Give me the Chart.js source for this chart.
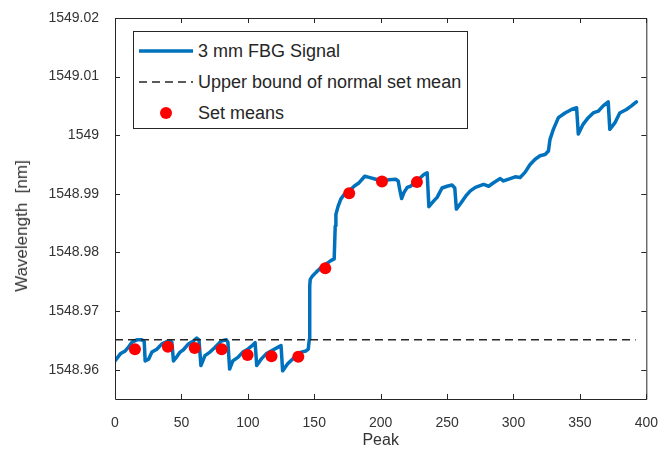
<!DOCTYPE html>
<html>
<head>
<meta charset="utf-8">
<script src="https://cdn.jsdelivr.net/npm/chart.js@4.4.0/dist/chart.umd.min.js"></script>
<style>
  html, body { margin: 0; padding: 0; background: #fff; }
  #wrap { position: relative; width: 666px; height: 457px; }
  #legend {
    position: absolute; left: 133px; top: 31px; width: 335px; height: 98px;
    box-sizing: border-box; border: 1px solid #262626; background: #fff;
    font-family: "Liberation Sans", Arial, sans-serif; font-size: 18px; color: #262626;
  }
  .row { position: absolute; left: 0; height: 24px; }
  .row svg { position: absolute; left: 4px; top: 0; }
  .row span { position: absolute; left: 64px; top: 1px; white-space: nowrap; line-height: 22px; }
  #ytitle {
    position: absolute; left: 22px; top: 226px; width: 0; height: 0;
    font-family: "Liberation Sans", Arial, sans-serif; font-size: 17px; color: #333;
  }
  #ytitle span {
    position: absolute; left: 0; top: 0; white-space: pre;
    transform: translate(-50%, -50%) rotate(-90deg);
  }
</style>
</head>
<body>
<div id="wrap">
  <canvas id="chart" width="666" height="457"></canvas>
  <div id="ytitle"><span>Wavelength  [nm]</span></div>
  <div id="legend">
    <div class="row" style="top:7px">
      <svg width="56" height="24"><line x1="1" y1="12" x2="55" y2="12" stroke="#0072BD" stroke-width="3.5"/></svg>
      <span>3 mm FBG Signal</span>
    </div>
    <div class="row" style="top:38px">
      <svg width="56" height="24"><line x1="1" y1="12" x2="55" y2="12" stroke="#262626" stroke-width="1.5" stroke-dasharray="8,5"/></svg>
      <span>Upper bound of normal set mean</span>
    </div>
    <div class="row" style="top:69px">
      <svg width="56" height="24"><circle cx="28" cy="12" r="6" fill="#ff0000"/></svg>
      <span>Set means</span>
    </div>
  </div>
</div>
<script>
// 3 mm FBG signal
const peakIdx = [0, 4, 7.7, 10.3, 12.8, 16.5, 20.3, 22, 22.7, 25.3, 27.8, 31.5, 35.3, 39, 41.5, 42.8,
  44, 46.5, 49, 51.5, 55.3, 59, 61.5, 63.2, 64.7, 67.7, 71.5, 75.2, 80, 83.8, 85,
  86.3, 88.7, 92.5, 96.2, 100, 103.7, 105.5, 106.7, 110, 113.8, 117.5, 122.5, 125,
  126.2, 130, 135, 140, 143.8, 145.5, 146.3, 146.6, 147, 148.7, 151.3, 155, 158.8, 162.5, 165,
  165.8, 166.3, 168, 170, 172.5, 176.3, 180, 183.8, 188, 191.3, 196.3, 201.2, 206.3, 211.3, 213.2,
  214.3, 215.8, 217.5, 220, 222.5, 225, 228.8, 232.5, 235, 236.3, 240, 242.5, 246.2, 250, 253.7, 255.8,
  257, 260.3, 264, 267.5, 271.3, 277.5, 281.3, 285, 290, 292.5, 297.5, 301.3, 305, 308.8, 312.5,
  316.3, 320, 323.8, 326.3, 327.5, 330, 333.8, 338.8, 343.7, 347.5, 348.8, 352.5, 356.3, 360, 363.8,
  367.5, 371.3, 372.5, 376.3, 380, 385, 388.8, 392.5];
const wavelength = [1548.9615, 1548.9627, 1548.9632, 1548.9639, 1548.9647, 1548.9651, 1548.9651, 1548.9648,
  1548.9615, 1548.9618, 1548.9630, 1548.9635, 1548.9644, 1548.9648, 1548.9649, 1548.9647,
  1548.9615, 1548.9622, 1548.9630, 1548.9634, 1548.9644, 1548.9649, 1548.9654, 1548.9651,
  1548.9607, 1548.9624, 1548.9630, 1548.9638, 1548.9649, 1548.9651, 1548.9647,
  1548.9601, 1548.9615, 1548.9621, 1548.9630, 1548.9635, 1548.9642, 1548.9646,
  1548.9607, 1548.9618, 1548.9627, 1548.9632, 1548.9638, 1548.9641,
  1548.9598, 1548.9610, 1548.9621, 1548.9630, 1548.9632, 1548.9635, 1548.9652, 1548.9743, 1548.9754,
  1548.9760, 1548.9766, 1548.9774, 1548.9780, 1548.9786, 1548.9789,
  1548.9845, 1548.9865, 1548.9879, 1548.9891, 1548.9899, 1548.9905, 1548.9913, 1548.9919, 1548.9930,
  1548.9928, 1548.9925, 1548.9922, 1548.9924, 1548.9925, 1548.9922,
  1548.9908, 1548.9892, 1548.9902, 1548.9911, 1548.9913, 1548.9918, 1548.9925, 1548.9933, 1548.9936,
  1548.9878, 1548.9888, 1548.9894, 1548.9910, 1548.9913, 1548.9915, 1548.9910,
  1548.9874, 1548.9884, 1548.9896, 1548.9905, 1548.9911, 1548.9916, 1548.9913, 1548.9919, 1548.9926,
  1548.9922, 1548.9926, 1548.9929, 1548.9928, 1548.9937, 1548.9950,
  1548.9959, 1548.9965, 1548.9967, 1548.9973, 1548.9993, 1549.0010, 1549.0030, 1549.0038, 1549.0044,
  1549.0047, 1549.0002, 1549.0019, 1549.0030, 1549.0038, 1549.0041,
  1549.0050, 1549.0057, 1549.0010, 1549.0021, 1549.0038, 1549.0044, 1549.0050, 1549.0057];

// set means
const meanPeak = [15, 39.8, 60, 80.3, 99.8, 117.8, 138, 158.3, 176.3, 201, 227.3];
const meanVal = [1548.9635, 1548.9639, 1548.9637, 1548.9635, 1548.9625, 1548.9623, 1548.9622,
  1548.9773, 1548.9901, 1548.9921, 1548.9920];

// upper bound of normal set mean
const boundPeak = [0, 392];
const boundVal = [1548.9651, 1548.9651];

const xTicks = [0, 50, 100, 150, 200, 250, 300, 350, 400];
const yTicks = [1548.96, 1548.97, 1548.98, 1548.99, 1549, 1549.01, 1549.02];

const axisColor = '#262626';
const fontFam = '"Liberation Sans", Arial, sans-serif';

function pts(xs, ys) { return xs.map((x, i) => ({x: x, y: ys[i]})); }

// matlab style box with inward ticks
const boxPlugin = {
  id: 'box',
  afterDraw(chart) {
    const {ctx, chartArea: a, scales} = chart;
    ctx.save();
    ctx.strokeStyle = axisColor;
    ctx.lineWidth = 1;
    ctx.beginPath();
    ctx.rect(a.left + 0.5, a.top + 0.5, a.right - a.left, a.bottom - a.top);
    const len = 5;
    scales.x.ticks.forEach(t => {
      const px = Math.round(scales.x.getPixelForValue(t.value)) + 0.5;
      ctx.moveTo(px, a.bottom); ctx.lineTo(px, a.bottom - len);
      ctx.moveTo(px, a.top); ctx.lineTo(px, a.top + len);
    });
    scales.y.ticks.forEach(t => {
      const py = Math.round(scales.y.getPixelForValue(t.value)) + 0.5;
      ctx.moveTo(a.left, py); ctx.lineTo(a.left + len, py);
      ctx.moveTo(a.right, py); ctx.lineTo(a.right - len, py);
    });
    ctx.stroke();
    ctx.restore();
  }
};

new Chart(document.getElementById('chart').getContext('2d'), {
  type: 'scatter',
  data: {
    datasets: [
      {
        label: 'Set means',
        data: pts(meanPeak, meanVal),
        pointRadius: 6,
        pointHoverRadius: 6,
        pointBackgroundColor: '#ff0000',
        pointBorderWidth: 0,
        showLine: false,
        order: 0
      },
      {
        label: 'Upper bound of normal set mean',
        data: pts(boundPeak, boundVal),
        showLine: true,
        borderColor: '#262626',
        borderWidth: 1.5,
        borderDash: [8, 5],
        pointRadius: 0,
        order: 1
      },
      {
        label: '3 mm FBG Signal',
        data: pts(peakIdx, wavelength),
        showLine: true,
        borderColor: '#0072BD',
        borderWidth: 3.5,
        borderJoinStyle: 'round',
        borderCapStyle: 'round',
        pointRadius: 0,
        tension: 0,
        order: 2
      }
    ]
  },
  options: {
    responsive: false,
    animation: false,
    layout: { padding: { top: 18, right: 18, left: 0, bottom: 0 } },
    plugins: { legend: { display: false }, tooltip: { enabled: false } },
    scales: {
      x: {
        type: 'linear',
        min: 0,
        max: 400,
        afterBuildTicks: s => { s.ticks = xTicks.map(v => ({value: v})); },
        afterFit: s => { s.height = 58; },
        grid: { display: false },
        border: { display: false },
        ticks: { color: '#333', padding: 8, font: { family: fontFam, size: 14 } },
        title: {
          display: true, text: 'Peak', color: '#333',
          font: { family: fontFam, size: 16 }, padding: { top: 0, bottom: 7 }
        }
      },
      y: {
        type: 'linear',
        min: 1548.955,
        max: 1549.02,
        afterBuildTicks: s => { s.ticks = yTicks.map(v => ({value: v})); },
        afterFit: s => { s.width = 115; },
        grid: { display: false },
        border: { display: false },
        ticks: {
          color: '#333', padding: 8, font: { family: fontFam, size: 14 },
          callback: v => String(+v.toFixed(2))
        }
      }
    }
  },
  plugins: [boxPlugin]
});
</script>
</body>
</html>
